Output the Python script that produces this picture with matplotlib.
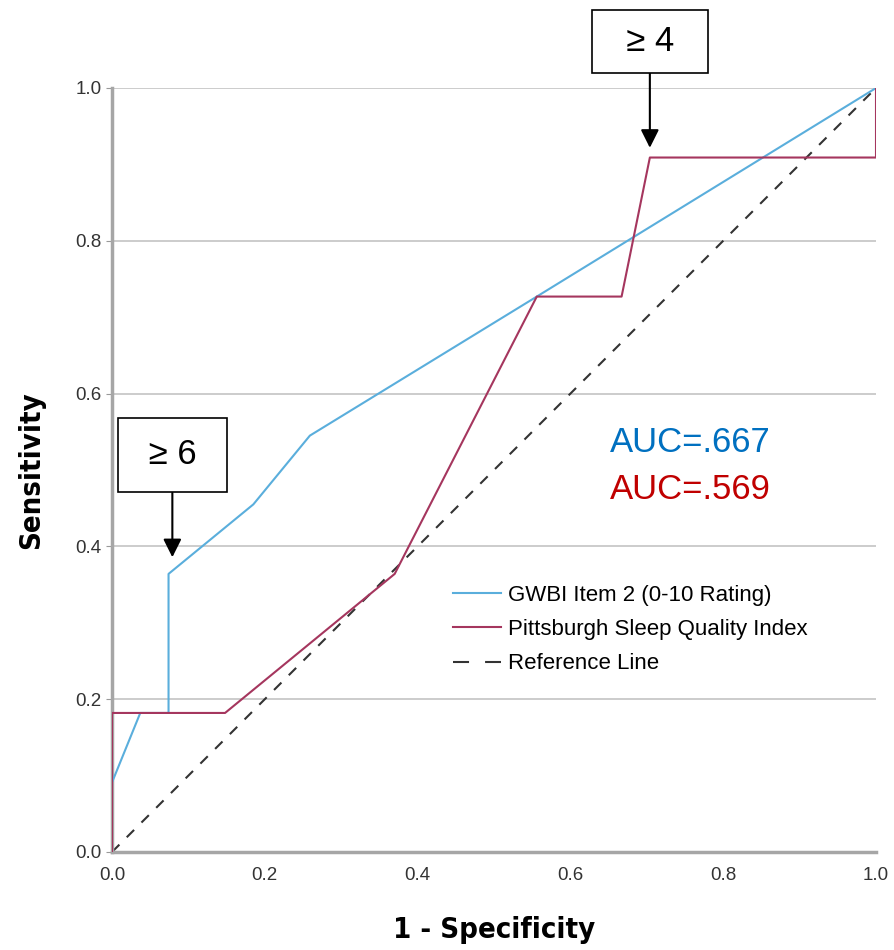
import matplotlib.pyplot as plt

# ROC curve coordinates (1 - specificity, sensitivity)
gwbi_fpr = [0.0, 0.0, 0.037, 0.074, 0.074, 0.185, 0.259, 0.556, 1.0]
gwbi_tpr = [0.0, 0.091, 0.182, 0.182, 0.364, 0.455, 0.545, 0.727, 1.0]

psqi_fpr = [0.0, 0.0, 0.148, 0.370, 0.556, 0.667, 0.704, 1.0, 1.0]
psqi_tpr = [0.0, 0.182, 0.182, 0.364, 0.727, 0.727, 0.909, 0.909, 1.0]

ref_line = [0.0, 1.0]
ticks = [0.0, 0.2, 0.4, 0.6, 0.8, 1.0]

labels = ['GWBI Item 2 (0-10 Rating)', 'Pittsburgh Sleep Quality Index', 'Reference Line']
auc_texts = ['AUC=.667', 'AUC=.569']

blue = '#5aaedc'
red = '#a5365e'

plt.rcParams['font.family'] = ['Liberation Sans', 'DejaVu Sans']

fig = plt.figure(figsize=(8.94, 9.5), dpi=100)
ax = fig.add_axes([112 / 894, 1 - 852 / 950, 764 / 894, 764 / 950])

ax.plot(gwbi_fpr, gwbi_tpr, color=blue, lw=1.5, label=labels[0], zorder=3)
ax.plot(psqi_fpr, psqi_tpr, color=red, lw=1.5, label=labels[1], zorder=3)
ax.plot(ref_line, ref_line, color='#333333', lw=1.5, ls=(0, (5, 5)), label=labels[2], zorder=2)

ax.set_xlim(0, 1)
ax.set_ylim(0, 1)
ax.set_xticks(ticks)
ax.set_yticks(ticks)
ax.set_xticklabels([f'{t:.1f}' for t in ticks])
ax.set_yticklabels([f'{t:.1f}' for t in ticks])
ax.tick_params(axis='both', labelsize=13.5, colors='#333333')
ax.tick_params(axis='y', length=4, color='#999999')
ax.tick_params(axis='x', length=0, pad=11)
ax.yaxis.grid(True, color='#c8c8c8', lw=1.3)
ax.set_axisbelow(True)

for side in ['top', 'right']:
    ax.spines[side].set_visible(False)
for side in ['left', 'bottom']:
    ax.spines[side].set_color('#a6a6a6')
    ax.spines[side].set_linewidth(2.5)

label_font = dict(fontsize=21, fontweight='bold', family=['Liberation Sans Narrow', 'DejaVu Sans'],
                  fontstretch='condensed')
ax.set_xlabel('1 - Specificity', labelpad=23, **label_font)
ax.set_ylabel('Sensitivity', labelpad=22, **label_font)

leg = ax.legend(loc='upper left', bbox_to_anchor=(0.4352, 0.361), frameon=False,
                fontsize=16, handlelength=2.16, handletextpad=0.3, labelspacing=0.59,
                borderaxespad=0)
leg.get_lines()[2].set_linestyle((0, (7.7, 7.7)))

ax.text(0.652, 0.536, auc_texts[0], color='#0070c0', fontsize=25, va='center', ha='left')
ax.text(0.652, 0.474, auc_texts[1], color='#c00000', fontsize=25, va='center', ha='left')

arrow = dict(arrowstyle='-|>,head_length=0.44,head_width=0.22', color='black', lw=1.5,
             shrinkA=0, shrinkB=7)
ax.annotate('  \u2265 4  ', xy=(psqi_fpr[6], psqi_tpr[6]), xytext=(0, 116),
            textcoords='offset pixels', ha='center', va='center', fontsize=25,
            bbox=dict(boxstyle='square,pad=0.42', fc='white', ec='black', lw=1.2),
            arrowprops=arrow, annotation_clip=False)
ax.annotate(' \u2265 6 ', xy=(gwbi_fpr[4] + 0.005, gwbi_tpr[4]), xytext=(0, 119),
            textcoords='offset pixels', ha='center', va='center', fontsize=25,
            bbox=dict(boxstyle='square,pad=0.6', fc='white', ec='black', lw=1.2),
            arrowprops=dict(arrow, shrinkB=12), annotation_clip=False)

fig.savefig('out.png', dpi=100)
